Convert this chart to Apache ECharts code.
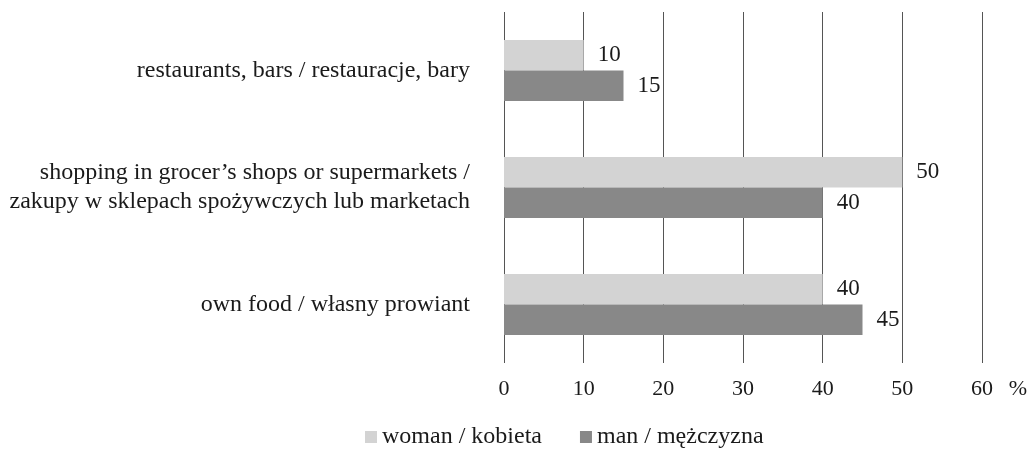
<!DOCTYPE html>
<html>
<head>
<meta charset="utf-8">
<script src="https://cdn.jsdelivr.net/npm/echarts@6/dist/echarts.min.js"></script>
<style>
  html, body { margin: 0; padding: 0; background: #fff; }
  #chart { width: 1031px; height: 450px; }
</style>
</head>
<body>
<div id="chart"></div>
<script>
  var categories = [
    'restaurants, bars / restauracje, bary',
    'shopping in grocer\u2019s shops or supermarkets /\nzakupy w sklepach spożywczych lub marketach',
    'own food / własny prowiant'
  ]
  var womanValues = [10, 50, 40]
  var manValues = [15, 40, 45]
  var seriesNames = ['woman / kobieta', 'man / mężczyzna']

  var font = 'Liberation Serif'
  var chart = echarts.init(document.getElementById('chart'))
  var barLabel = {
    show: true,
    position: 'right',
    distance: 14,
    color: '#1a1a1a',
    fontFamily: font,
    fontSize: 23
  }
  var option = {
    animation: false,
    textStyle: { fontFamily: font },
    grid: { left: 504, right: 49, top: 12, bottom: 87, containLabel: false },
    legend: {
      bottom: 1,
      left: 365,
      padding: 0,
      itemWidth: 12,
      itemHeight: 12,
      itemGap: 38,
      icon: 'rect',
      textStyle: { fontFamily: font, fontSize: 24, color: '#1a1a1a' },
      data: seriesNames
    },
    xAxis: {
      type: 'value',
      min: 0,
      max: 60,
      interval: 10,
      axisLine: { show: false },
      axisTick: { show: false },
      splitLine: { show: true, lineStyle: { color: '#555', width: 1 } },
      axisLabel: {
        color: '#1a1a1a',
        fontFamily: font,
        fontSize: 22,
        margin: 15,
        // "%" sits to the right of the last tick, keep "60" centred on its line
        formatter: function (v) { return v === 60 ? '{s|}60{p|%}' : String(v) },
        rich: {
          s: { width: 34 },
          p: { width: 34, align: 'right', fontFamily: font, fontSize: 22, color: '#1a1a1a' }
        }
      }
    },
    yAxis: {
      type: 'category',
      inverse: true,
      data: categories,
      axisLine: { show: false },
      axisTick: { show: false },
      axisLabel: {
        color: '#1a1a1a',
        fontFamily: font,
        fontSize: 24,
        lineHeight: 29,
        margin: 34,
        align: 'right'
      }
    },
    series: [
      {
        name: seriesNames[0],
        type: 'bar',
        data: womanValues,
        barGap: '0%',
        barCategoryGap: '48%',
        itemStyle: { color: '#d3d3d3' },
        label: barLabel
      },
      {
        name: seriesNames[1],
        type: 'bar',
        data: manValues,
        itemStyle: { color: '#888888' },
        label: barLabel
      }
    ]
  }
  chart.setOption(option)
</script>
</body>
</html>
